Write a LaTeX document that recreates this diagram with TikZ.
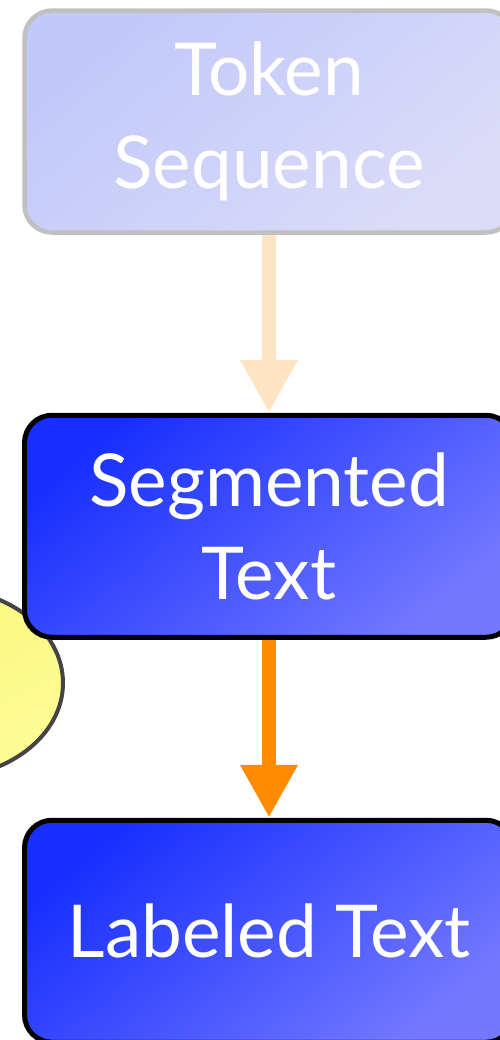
\documentclass[tikz,border=0pt]{standalone}
\usepackage{fontspec}
\setmainfont{Lato}
\usetikzlibrary{arrows.meta,positioning,shapes.geometric}
\definecolor{boxdeep}{RGB}{24,48,255}
\definecolor{boxpale}{RGB}{115,120,255}
\definecolor{fadedeep}{RGB}{193,200,250}
\definecolor{fadepale}{RGB}{220,220,248}
\definecolor{fadeline}{RGB}{192,192,192}
\definecolor{peach}{RGB}{254,228,194}
\definecolor{flowor}{RGB}{255,140,0}
\definecolor{lemon}{RGB}{252,247,120}
\definecolor{lemonpale}{RGB}{254,251,150}
\definecolor{rimgray}{RGB}{68,68,68}

\begin{document}
\begin{tikzpicture}[>=Stealth,
  stagebox/.style={draw=black,line width=0.1cm,rounded corners=0.55cm,
    minimum width=9.78cm,minimum height=4.44cm,inner sep=0pt,
    top color=boxdeep,bottom color=boxpale,shading angle=40,
    text=white,align=center,font=\fontsize{41.5}{53}\selectfont},
  fadebox/.style={stagebox,draw=fadeline,line width=0.09cm,
    top color=fadedeep,bottom color=fadepale,shading angle=40},
  flowarrow/.style={line width=0.28cm,-{Triangle[width=1.08cm,length=1.06cm]}},
  lemonblob/.style={ellipse,draw=rimgray,line width=0.08cm,inner sep=0pt,
    minimum width=4.92cm,minimum height=3.8cm,
    top color=lemon,bottom color=lemonpale,shading angle=30}]
\useasboundingbox (0,0) rectangle (10,-20.8);
\clip (0,0) rectangle (10,-20.8);
% partly hidden bubble at the left edge
\node[lemonblob] (blob) at (-1.2,-13.66) {};
% the three stages
\node[fadebox] (tok) at (5.38,-2.43) {Token\\Sequence};
\node[stagebox,below=3.56cm of tok] (seg) {Segmented\\Text};
\node[stagebox,below=3.56cm of seg] (lab) {Labeled Text};
\draw[flowarrow,peach] (tok) -- (seg);
\draw[flowarrow,flowor] (seg) -- (lab);
\end{tikzpicture}
\end{document}
